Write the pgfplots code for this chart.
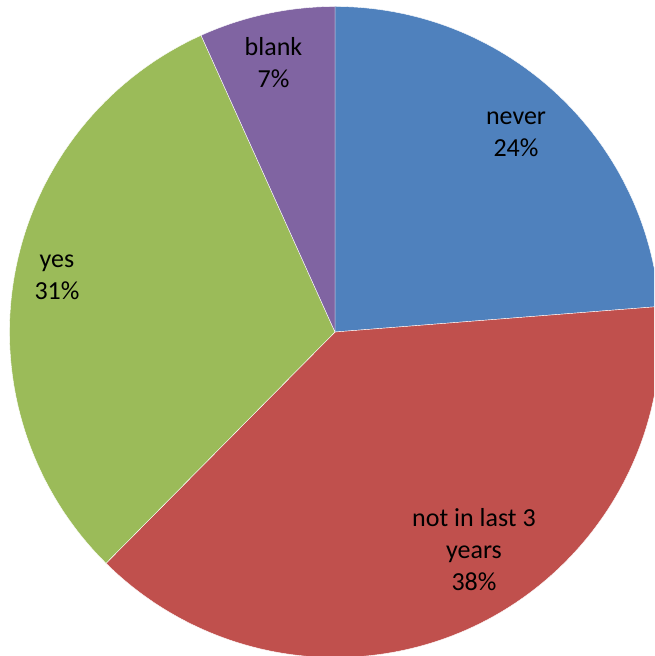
\documentclass[border=0pt]{standalone}
\usepackage{pgfplots}
\pgfplotsset{compat=1.18}
\usepackage{pgfplotstable}
\usepackage{fontspec}
\setmainfont{Carlito}
\definecolor{cblue}{HTML}{4F81BD}
\definecolor{cred}{HTML}{C0504D}
\definecolor{cgreen}{HTML}{9BBB59}
\definecolor{cpurple}{HTML}{8064A2}
% slice values in percent (clockwise from 12 o'clock)
\def\vA{23.75}\def\vB{38.67}\def\vC{30.83}\def\vD{6.75}
\pgfmathsetmacro{\aA}{90}
\pgfmathsetmacro{\aB}{\aA-\vA*3.6}
\pgfmathsetmacro{\aC}{\aB-\vB*3.6}
\pgfmathsetmacro{\aD}{\aC-\vC*3.6}
\pgfmathsetmacro{\aE}{\aD-\vD*3.6}
\begin{document}
\begin{tikzpicture}
\begin{axis}[
  x=1pt, y=1pt,
  xmin=-335, xmax=319, ymin=-324, ymax=332,
  hide axis, scale only axis, clip=true,
  font=\fontsize{26}{32}\selectfont,
]
\fill[cblue, draw=white, line width=0.4pt] (axis cs:0,0) -- ++(\aA:325.5pt) arc[start angle=\aA, end angle=\aB, radius=325.5pt] -- cycle;
\fill[cred, draw=white, line width=0.4pt] (axis cs:0,0) -- ++(\aB:325.5pt) arc[start angle=\aB, end angle=\aC, radius=325.5pt] -- cycle;
\fill[cgreen, draw=white, line width=0.4pt] (axis cs:0,0) -- ++(\aC:325.5pt) arc[start angle=\aC, end angle=\aD, radius=325.5pt] -- cycle;
\fill[cpurple, draw=white, line width=0.4pt] (axis cs:0,0) -- ++(\aD:325.5pt) arc[start angle=\aD, end angle=\aE, radius=325.5pt] -- cycle;
\node[align=center, font=\fontsize{26}{32}\selectfont] at (axis cs:181,198) {never\\24\%};
\node[align=center, font=\fontsize{26}{32}\selectfont] at (axis cs:139,-218) {not in last 3\\years\\38\%};
\node[align=center, font=\fontsize{26}{32}\selectfont] at (axis cs:-278,55) {yes\\31\%};
\node[align=center, font=\fontsize{26}{32}\selectfont] at (axis cs:-61.5,269) {blank\\7\%};
\end{axis}
\pgfresetboundingbox
\path[use as bounding box] (current axis.south west) rectangle (current axis.north east);
\end{tikzpicture}
\end{document}
